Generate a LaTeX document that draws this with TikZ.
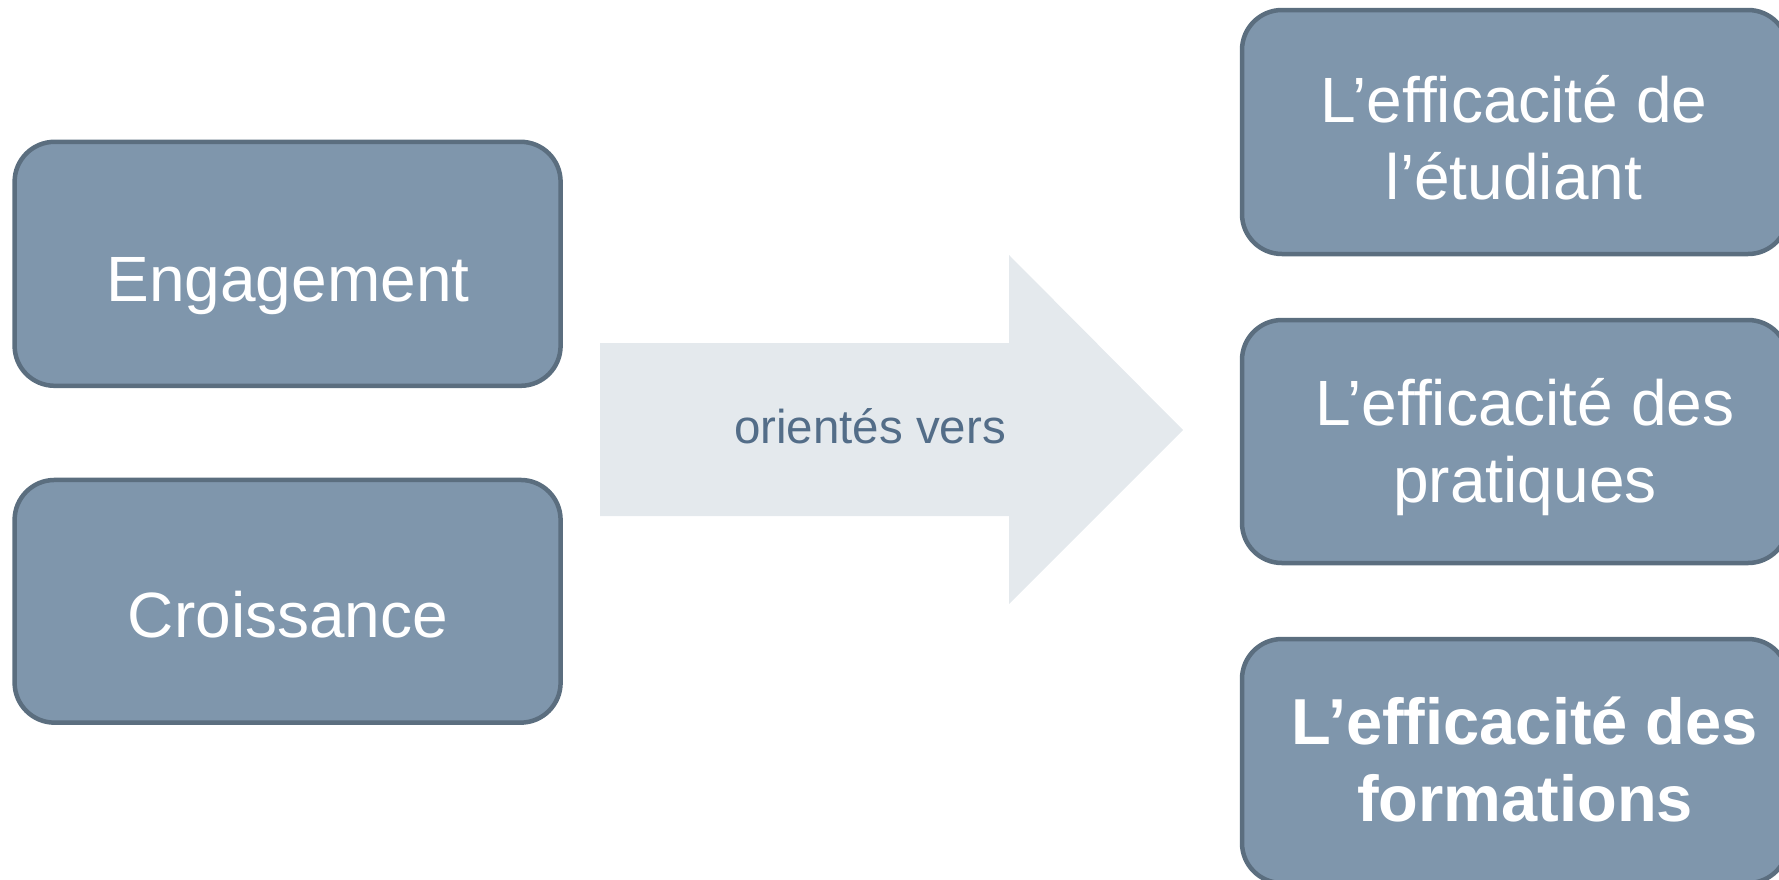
\documentclass[tikz,border=0pt]{standalone}
\usepackage{fontspec}
\setmainfont{Liberation Sans}
\definecolor{boxfill}{HTML}{7F96AC}
\definecolor{boxline}{HTML}{5B6E7F}
\definecolor{arrowfill}{HTML}{E4E9ED}
\definecolor{arrowtext}{HTML}{536D88}
\begin{document}
\begin{tikzpicture}[x=1pt,y=-1pt,
  card/.style={draw=boxline, fill=boxfill, line width=4.5pt, rounded corners=40pt,
    rectangle, minimum width=546pt, minimum height=244pt, inner sep=0pt},
  cardtext/.style={text=white, align=center, font=\fontsize{64}{77}\selectfont, inner sep=0pt},
  cardbold/.style={cardtext, font=\fontsize{65}{77}\selectfont\bfseries}]
\useasboundingbox (0,0) rectangle (1779,879);
\begin{scope}
\clip (0,0) rectangle (1779,879);
% left cards
\node[card] (eng) at (287.6,263.8) {};
\node[card, minimum height=242.7pt] (cro) at (287.6,601.3) {};
% right cards
\node[card] (ef1) at (1515,132) {};
\node[card, minimum height=243pt] (ef2) at (1515,441.5) {};
\node[card] (ef3) at (1515,761) {};
% arrow
\path[fill=arrowfill] (600,343) -- (1009,343) -- (1009,255) -- (1183,430)
  -- (1009,604) -- (1009,516) -- (600,516) -- cycle;
\end{scope}
\node[cardtext, anchor=base] (tEng) at (288,301.8) {Engagement};
\node[cardtext, anchor=base] (tCro) at (288,637.6) {Croissance};
\node[cardtext, anchor=base] (tEf1) at (1514,199.7) {L’efficacité de\\l’étudiant};
\node[cardtext, anchor=base] (tEf2) at (1525,502.6) {L’efficacité des\\pratiques};
\node[cardbold, anchor=base] (tEf3) at (1525,821.5) {L’efficacité des\\formations};
\node[text=arrowtext, font=\fontsize{47.5}{57}\selectfont, inner sep=0pt, anchor=base] (lab) at (870,443.6) {orientés vers};
\end{tikzpicture}
\end{document}
